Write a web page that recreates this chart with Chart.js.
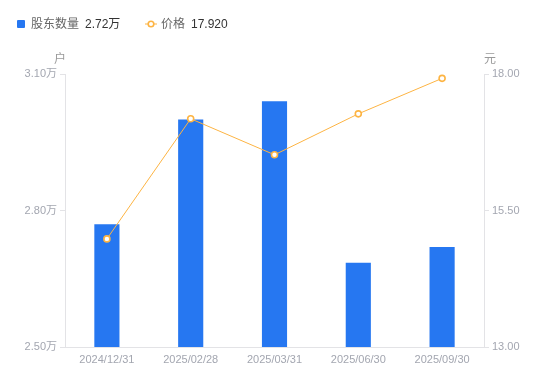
<!DOCTYPE html>
<html>
<head>
<meta charset="utf-8">
<script src="https://cdn.jsdelivr.net/npm/chart.js@4/dist/chart.umd.min.js"></script>
<style>
  html, body { margin: 0; padding: 0; background: #fff; }
  #wrap { position: relative; width: 550px; height: 381px; font-family: "Liberation Sans", "Noto Sans CJK SC", sans-serif; }
  canvas { position: absolute; left: 0; top: 0; }
  .lg { position: absolute; top: 16px; font-size: 12px; line-height: 16px; white-space: nowrap; }
  .lg .name { color: #666; }
  .lg .val { color: #333; margin-left: 6px; }
  .sq { position: absolute; left: 17px; top: 20px; width: 8px; height: 8px; background: #2677F1; border-radius: 1px; }
  .ttl { position: absolute; top: 49px; font-size: 12px; color: #999; }
</style>
</head>
<body>
<div id="wrap">
  <canvas id="c" width="550" height="381"></canvas>
  <div class="sq"></div>
  <div class="lg" style="left:31px"><span class="name" id="n1"></span><span class="val" id="v1"></span></div>
  <svg style="position:absolute;left:144px;top:18px" width="14" height="12"><line x1="1" y1="6" x2="13" y2="6" stroke="#FDB443" stroke-width="1"/><circle cx="7" cy="6" r="2.8" fill="#fff" stroke="#FDB443" stroke-width="1.6"/></svg>
  <div class="lg" style="left:161px"><span class="name" id="n2"></span><span class="val" id="v2"></span></div>
  <div class="ttl" style="left:54px">户</div>
  <div class="ttl" style="left:484px">元</div>
</div>
<script>
const categories = ["2024/12/31", "2025/02/28", "2025/03/31", "2025/06/30", "2025/09/30"];
const holders = [2.77, 3.00, 3.04, 2.685, 2.72];   // 万户
const prices = [14.98, 17.18, 16.52, 17.27, 17.92]; // 元
const seriesNames = ["股东数量", "价格"];
const legendValues = ["2.72万", "17.920"];
const leftTicks = [2.5, 2.8, 3.1];
const rightTicks = [13, 15.5, 18];

document.getElementById('n1').textContent = seriesNames[0];
document.getElementById('v1').textContent = legendValues[0];
document.getElementById('n2').textContent = seriesNames[1];
document.getElementById('v2').textContent = legendValues[1];

const tickColor = '#a3a6b0';
const axisColor = '#e3e3e6';
const font = { family: '"Liberation Sans", "Noto Sans CJK SC", sans-serif', size: 11 };

new Chart(document.getElementById('c'), {
  data: {
    labels: categories,
    datasets: [
      {
        type: 'line', label: seriesNames[1], data: prices, yAxisID: 'y1',
        borderColor: '#FDB443', borderWidth: 1, backgroundColor: '#fff',
        pointRadius: 3, pointBorderWidth: 1.6, pointBackgroundColor: '#fff', pointBorderColor: '#FDB443',
        tension: 0, order: 0
      },
      {
        type: 'bar', label: seriesNames[0], data: holders, yAxisID: 'y',
        backgroundColor: '#2677F1', categoryPercentage: 1, barPercentage: 0.3, order: 1
      }
    ]
  },
  options: {
    responsive: false, animation: false,
    layout: { padding: { top: 74, left: 0, right: 0, bottom: 0 } },
    plugins: { legend: { display: false }, tooltip: { enabled: false } },
    scales: {
      x: {
        grid: { display: false, drawTicks: false },
        border: { color: axisColor },
        ticks: { color: tickColor, font, padding: 6, maxRotation: 0 },
        afterFit(s) { s.height = 34; }
      },
      y: {
        position: 'left', min: 2.5, max: 3.1,
        afterBuildTicks(s) { s.ticks = leftTicks.map(v => ({ value: v })); },
        grid: { drawOnChartArea: false, tickLength: 5, color: axisColor },
        border: { color: axisColor },
        ticks: { color: tickColor, font, padding: 3, callback: v => v.toFixed(2) + '万' },
        afterFit(s) { s.width = 65; }
      },
      y1: {
        position: 'right', min: 13, max: 18,
        afterBuildTicks(s) { s.ticks = rightTicks.map(v => ({ value: v })); },
        grid: { drawOnChartArea: false, tickLength: 5, color: axisColor },
        border: { color: axisColor },
        ticks: { color: tickColor, font, padding: 3, callback: v => v.toFixed(2) },
        afterFit(s) { s.width = 66; }
      }
    }
  }
});
</script>
</body>
</html>
